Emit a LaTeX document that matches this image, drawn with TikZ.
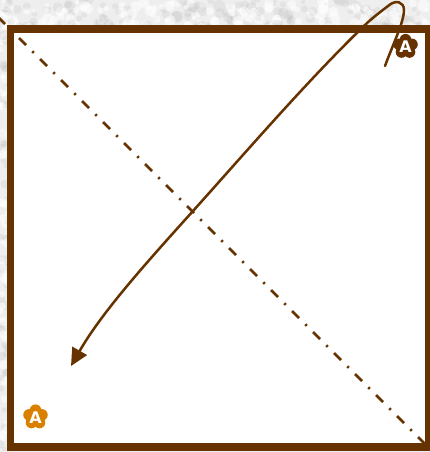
\documentclass[tikz,border=0pt]{standalone}
\usepackage{fontspec}
\setmainfont{DejaVu Sans}
\usetikzlibrary{arrows.meta}
\definecolor{framebrown}{HTML}{663300}
\definecolor{iconorange}{HTML}{D98000}
\definecolor{stonebase}{HTML}{EEEEEE}
\tikzset{
  framebox/.style={draw=framebrown,line width=7.4pt,fill=white,line join=miter},
  diagline/.style={draw=framebrown,line width=2.5pt,dash pattern=on 10pt off 8.8pt on 2.1pt off 8.8pt},
  curveline/.style={draw=framebrown,line width=2.5pt,line cap=round,
    -{Triangle[length=17.5pt,width=16.5pt,fill=framebrown]}},
  iconletter/.style={text=white,font=\fontsize{16}{16}\selectfont\bfseries,inner sep=0pt},
}
\newcommand{\flowerblob}[3]{%
  \fill[#3] (#1,#2) circle[radius=8.5pt];
  \foreach \a in {90,162,234,306,378}{
    \fill[#3] (#1,#2) ++(\a:6.8pt) circle[radius=5.8pt];
  }
}
\begin{document}
\begin{tikzpicture}[x=1pt,y=-1pt]
\useasboundingbox (0,0) rectangle (430,452);
\fill[stonebase] (0,0) rectangle (430,452);
\begin{scope}
\clip (0,0) rectangle (430,452);
\pgfmathsetseed{4217}
\foreach \i in {1,...,260}{
  \pgfmathsetmacro{\px}{rnd*430}
  \pgfmathsetmacro{\py}{rnd*28}
  \pgfmathsetmacro{\pr}{2+rnd*4}
  \pgfmathsetmacro{\pk}{rnd>0.5?1:0}
  \ifdim\pk pt>0.5pt
    \fill[white,opacity=0.55] (\px,\py) circle[radius=\pr pt];
  \else
    \fill[black,opacity=0.045] (\px,\py) circle[radius=\pr pt];
  \fi
}
\foreach \i in {1,...,110}{
  \pgfmathsetmacro{\py}{rnd*452}
  \pgfmathsetmacro{\pr}{2+rnd*3}
  \pgfmathsetmacro{\pk}{rnd>0.5?1:0}
  \ifdim\pk pt>0.5pt
    \fill[white,opacity=0.55] (rnd*8,\py) circle[radius=\pr pt];
  \else
    \fill[black,opacity=0.045] (rnd*8,\py) circle[radius=\pr pt];
  \fi
}
\end{scope}
\coordinate (diagstart) at (-2,17);
\coordinate (diagend) at (425,444);
\coordinate (curvestart) at (385,66);
\coordinate (curveend) at (71,366);
\draw[framebox] (10.5,29) rectangle (428.5,447);
\draw[diagline] (diagstart) -- (diagend);
\flowerblob{405.5}{46.5}{framebrown}
\node[iconletter] (iconbrown) at (405.5,47) {A};
\flowerblob{35.5}{417}{iconorange}
\node[iconletter] (iconorange) at (35.5,417.5) {A};
\draw[curveline] (curvestart)
  .. controls (393,44) and (404,22) .. (404,10)
  .. controls (404,2) and (396,-1) .. (388,6)
  .. controls (379,13) and (371,19) .. (365,25)
  .. controls (308,80) and (246,152) .. (193,211)
  .. controls (147,262) and (102,312) .. (curveend);
\end{tikzpicture}
\end{document}
